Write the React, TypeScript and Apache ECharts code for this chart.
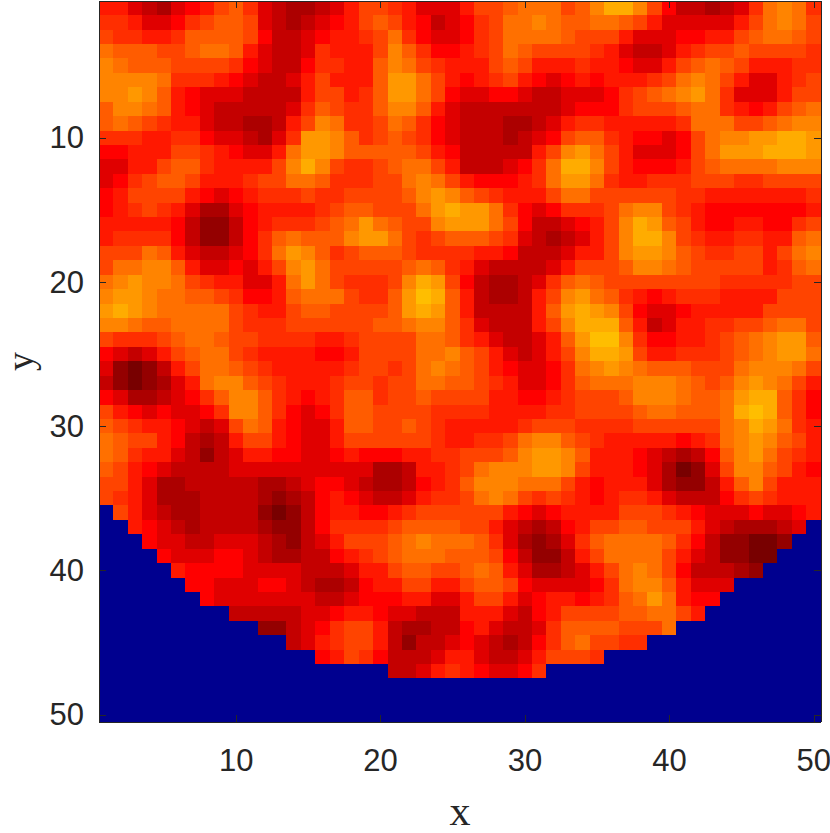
import React, { useEffect, useRef } from "react";
import * as echarts from "echarts";

const categories = Array.from({ length: 50 }, (_, i) => String(i + 1));
const tickValues = [10, 20, 30, 40, 50];
const levelColors = ["#780000","#940000","#ac0000","#c40000","#e00000","#ff0000","#ff1800","#ff2e00","#ff4400","#ff5c00","#ff7000","#ff8400","#ff9800","#ffac00","#ffbe00"];
const maskColor = "#00008f";

// One string per row y = 1..50; hex digit = colour level, "." = masked cell
const rows = [
"66432 45689 74322 34688 76444 6889a aa89b ddb85 33234 7aba7",
"77644 57899 84323 45689 86534 578aa ba99a a9864 44446 8aba8",
"87766 79999 85334 56678 a7544 578aa aa988 86444 55668 9aa98",
"a9998 89aa9 64334 76668 b9755 678a9 88887 64334 67889 88887",
"ba999 88887 54335 77669 ba876 66898 66676 65446 89a98 66677",
"bbbba 77765 43346 86669 cca86 56786 54565 66678 aba86 44678",
"bbcb9 65444 33336 88679 cca85 44554 33444 5789a bca74 44688",
"9bba9 65433 33347 98779 bb964 33333 33455 57888 9aa76 5689a",
"9a987 66433 22368 ba778 a9754 33322 34677 66666 7aaa8 89abb",
"77766 77544 3247c cb978 98754 33323 45899 76554 58abb ccddc",
"55666 88765 446ac cb999 99865 33333 68bca 86444 58acc cdddc",
"44668 99766 668bd b8778 9aa86 33345 7addb 86555 689aa aabbb",
"45789 98666 788aa 97778 8aba8 65556 7acca 76677 78887 78888",
"56888 86545 67778 77888 89bcb 98766 68aa8 88888 77666 66667",
"56787 64224 56666 78998 88acd cca75 45777 8abb8 76555 55556",
"66666 53113 56777 89aca 988bc cca85 33456 8bdc9 86556 65578",
"67777 53113 579a9 99bcc a8789 99874 32346 8bddb 87667 7669a",
"888a9 64334 57acb 97899 98777 76653 33466 8bccb 98778 868ab",
"8aabb 96445 468bc a8888 89a97 64333 34688 89bba 98888 8679a",
"abcbb a8766 446ac a8777 8bdc8 53223 479a9 88888 88877 77788",
"bccba a9987 5569a aa877 9ced9 63223 68bca 97656 77766 66888",
"cdcba aaaa8 76689 98888 9cdc9 63333 69cdc b8544 56666 68888",
"bba99 aaaa8 77788 88889 9abb9 74333 68bdd d9634 66778 89aa8",
"87778 9aa98 87777 66788 88aa9 76433 469ce eb755 66789 abcc9",
"54346 89aa8 76666 55688 88aab 98643 468bd dc866 77789 abcca",
"41013 68aa9 87666 66788 78aba 98654 457ab cba99 9888a bbba8",
"31012 46abb 98766 67887 88aa9 98764 4579a aabbb a989b cba86",
"54223 4579b b9765 67997 88988 88665 56788 89bbb a99ac dd975",
"86545 4457b b9754 57998 88877 77666 67788 889aa 999ad ed975",
"98766 54348 a9654 46998 89876 66667 88877 77888 888ab dca76",
"a9886 53236 88654 46888 88876 6778a bb987 66666 567ab cb986",
"a9766 43134 66554 45655 56677 8889b ccb96 66543 2359b ca876",
"98654 33334 44444 44442 23667 8abbb ccb86 66542 0148b b9865",
"88642 23333 32234 55432 23567 9bbba aa865 66642 11369 b8666",
"87642 22333 32123 56543 34677 8aba8 78765 67764 33357 87666",
".8643 22333 31013 56655 67888 88865 45666 68887 65444 54456",
"..654 32333 32113 57777 89999 88643 23568 89988 86432 2234.",
"...54 43344 43213 46888 9abaa a9742 12479 aaaa9 75311 001..",
"....5 44455 43223 35678 9aaa9 99853 11368 aaaa8 64311 00...",
"..... 65555 44443 33466 89988 9a964 22346 8aba8 53332 1....",
"..... .5544 45543 22356 68866 89985 44445 7abb9 6444. .....",
"..... ..544 44444 33455 56644 68864 56656 79aca 655.. .....",
"..... ....3 33334 45665 44333 66643 56888 899aa 86... .....",
"..... ..... .1134 57886 32233 56433 47999 9888a ..... .....",
"..... ..... ...34 67886 31334 54323 579a8 877.. ..... .....",
"..... ..... ..... 56875 33346 64334 68887 ..... ..... .....",
"..... ..... ..... ..... 33467 65445 7.... ..... ..... .....",
"..... ..... ..... ..... ..... ..... ..... ..... ..... .....",
"..... ..... ..... ..... ..... ..... ..... ..... ..... .....",
"..... ..... ..... ..... ..... ..... ..... ..... ..... .....",
];

const ink = "#262626";

export default function App() {
  const ref = useRef<HTMLDivElement>(null);
  useEffect(() => {
    document.body.style.margin = "0";
    const chart = echarts.init(ref.current!, undefined, { renderer: "svg" });
    const data: number[][] = [];
    rows.forEach((row, y) => {
      row.replace(/ /g, "").split("").forEach((c, x) => {
        data.push([x, y, c === "." ? -1 : parseInt(c, 16)]);
      });
    });
    const showTick = (i: number) => tickValues.includes(i + 1);
    const tick = { show: true, inside: true, length: 7, alignWithLabel: true, interval: showTick, lineStyle: { color: ink, width: 1 } };
    const line = { show: true, onZero: false, lineStyle: { color: ink, width: 1 } };
    const label = { show: true, interval: showTick, color: ink, fontFamily: "Liberation Sans", fontSize: 31 };
    const title = { color: ink, fontFamily: "Liberation Serif", fontSize: 42 };
    chart.setOption({
      animation: false,
      grid: { left: 99, right: 9, top: 1, bottom: 111, containLabel: false, outerBoundsMode: "none" },
      xAxis: [
        { type: "category", data: categories, position: "bottom", z: 5, axisLine: line, axisTick: tick,
          axisLabel: { ...label, margin: 23 }, splitLine: { show: false }, name: "x", nameLocation: "middle", nameGap: 68, nameTextStyle: title },
        { type: "category", data: categories, position: "top", z: 5, axisLine: line, axisTick: tick, axisLabel: { show: false }, splitLine: { show: false } },
      ],
      yAxis: [
        { type: "category", data: categories, inverse: true, position: "left", z: 5, axisLine: line, axisTick: tick,
          axisLabel: { ...label, margin: 15 }, splitLine: { show: false }, name: "y", nameLocation: "middle", nameGap: 56, nameRotate: 90, nameTextStyle: { ...title, fontSize: 38 } },
        { type: "category", data: categories, inverse: true, position: "right", z: 5, axisLine: line, axisTick: tick, axisLabel: { show: false }, splitLine: { show: false } },
      ],
      visualMap: {
        type: "piecewise", show: false, dimension: 2, seriesIndex: 0,
        pieces: [{ value: -1, color: maskColor }, ...levelColors.map((color, i) => ({ value: i, color }))],
      },
      series: [{ type: "heatmap", data, xAxisIndex: 0, yAxisIndex: 0, z: 1, progressive: 0, itemStyle: { borderWidth: 0 }, emphasis: { disabled: true } }],
    });
    return () => chart.dispose();
  }, []);
  return (
    <>
      <style>{"svg path{shape-rendering:crispEdges}"}</style>
      <div ref={ref} style={{ position: "absolute", left: 0, top: 0, width: 830, height: 833, background: "#fff" }} />
    </>
  );
}
